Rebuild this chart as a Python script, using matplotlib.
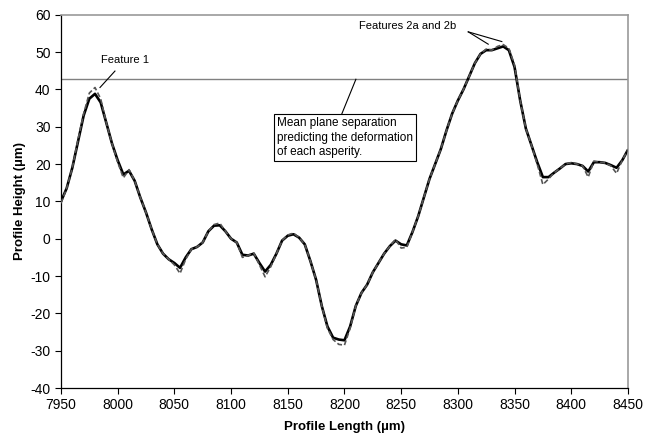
import matplotlib
matplotlib.use("Agg")
import matplotlib.pyplot as plt

plt.rcParams['font.family'] = ['Liberation Sans', 'DejaVu Sans']
plt.rcParams['axes.unicode_minus'] = False

# profile position (um)
x_pos = [7950, 7955, 7960, 7965, 7970, 7975, 7980, 7985, 7990, 7995,
         8000, 8005, 8010, 8015, 8020, 8025, 8030, 8035, 8040, 8045,
         8050, 8055, 8060, 8065, 8070, 8075, 8080, 8085, 8090, 8095,
         8100, 8105, 8110, 8115, 8120, 8125, 8130, 8135, 8140, 8145,
         8150, 8155, 8160, 8165, 8170, 8175, 8180, 8185, 8190, 8195,
         8200, 8205, 8210, 8215, 8220, 8225, 8230, 8235, 8240, 8245,
         8250, 8255, 8260, 8265, 8270, 8275, 8280, 8285, 8290, 8295,
         8300, 8305, 8310, 8315, 8320, 8325, 8330, 8335, 8340, 8345,
         8350, 8355, 8360, 8365, 8370, 8375, 8380, 8385, 8390, 8395,
         8400, 8405, 8410, 8415, 8420, 8425, 8430, 8435, 8440, 8445,
         8450]

# smoothed profile (solid black)
h_smooth = [10.0, 13.5, 19.0, 26.0, 33.0, 37.5, 38.8, 36.5, 31.0, 25.5,
            21.0, 17.2, 18.2, 15.5, 11.0, 7.0, 2.5, -1.5, -4.0, -5.5,
            -6.5, -7.8, -5.0, -2.8, -2.2, -1.0, 2.0, 3.5, 3.6, 2.0,
            0.0, -1.0, -4.3, -4.5, -4.0, -6.5, -8.8, -7.0, -4.0, -0.5,
            0.8, 1.2, 0.3, -1.5, -6.0, -11.0, -18.0, -23.5, -26.5, -27.0,
            -27.2, -23.5, -18.0, -14.5, -12.3, -9.0, -6.5, -4.0, -2.0, -0.5,
            -1.5, -1.8, 1.8, 6.0, 11.0, 16.0, 20.0, 24.0, 29.0, 33.5,
            37.0, 40.0, 43.5, 47.0, 49.5, 50.5, 50.5, 51.0, 51.5, 50.5,
            46.0, 37.0, 29.5, 25.0, 20.5, 16.5, 16.5, 17.7, 18.8, 20.0,
            20.2, 20.0, 19.5, 18.0, 20.5, 20.5, 20.3, 19.7, 19.0, 21.0,
            23.8]

# measured profile (dashed grey)
h_measured = [9.5, 13.5, 19.0, 26.5, 33.5, 39.0, 40.5, 37.5, 31.0, 25.5,
              20.5, 16.3, 18.5, 15.5, 11.0, 7.0, 2.5, -1.5, -4.0, -5.5,
              -7.0, -9.3, -5.5, -2.8, -2.2, -1.0, 2.0, 3.8, 4.2, 2.0,
              0.0, -1.0, -5.0, -4.5, -3.8, -7.0, -10.2, -7.5, -4.0, -0.5,
              1.0, 1.5, 0.3, -1.5, -6.0, -11.0, -18.0, -24.0, -27.0, -28.3,
              -28.5, -24.0, -18.0, -14.5, -12.3, -9.0, -6.5, -4.0, -2.0, -0.2,
              -2.5, -2.3, 1.8, 6.0, 11.0, 16.0, 20.0, 24.0, 29.0, 33.5,
              37.0, 40.0, 43.5, 47.0, 49.5, 50.8, 50.5, 51.5, 52.0, 51.0,
              46.5, 37.0, 29.5, 25.0, 20.0, 14.5, 16.0, 17.7, 18.8, 20.0,
              20.4, 20.0, 19.5, 16.5, 20.8, 20.5, 20.3, 19.5, 17.5, 21.0,
              23.8]

mean_plane = 42.7

fig = plt.figure(figsize=(6.46, 4.41), dpi=100)
ax = fig.add_axes([0.0944, 0.120, 0.8776, 0.8467])

ax.axhline(mean_plane, color='#808080', lw=1.0, zorder=1)
ax.plot(x_pos, h_smooth, color='black', lw=1.9, zorder=2,
        solid_joinstyle='round', solid_capstyle='round')
ax.plot(x_pos, h_measured, color='#555555', lw=1.2, dashes=(3, 1.5), zorder=3)

ax.set_xlim(7950, 8450)
ax.set_ylim(-40, 60)
ax.set_xticks(range(7950, 8451, 50))
ax.set_yticks(range(-40, 61, 10))
ax.tick_params(labelsize=10, length=4, direction='out', width=0.8)

for side in ['top', 'right']:
    ax.spines[side].set_color('#999999')
    ax.spines[side].set_linewidth(1.2)
for side in ['left', 'bottom']:
    ax.spines[side].set_linewidth(0.9)

ax.set_xlabel('Profile Length (µm)', fontsize=9.5, fontweight='bold', labelpad=6)
ax.set_ylabel('Profile Height (µm)', fontsize=9.5, fontweight='bold', labelpad=3)

# annotations
ax.text(8006.5, 47.9, 'Feature 1', fontsize=8, ha='center', va='center')
ax.plot([7997.6, 7984.4], [44.9, 40.5], color='black', lw=0.8)

ax.text(8256, 57.0, 'Features 2a and 2b', fontsize=8, ha='center', va='center')
ax.plot([8309.2, 8326.8], [55.4, 52.1], color='black', lw=0.8)
ax.plot([8309.2, 8338.8], [55.4, 52.8], color='black', lw=0.8)

ax.text(8140.5, 32.6,
        'Mean plane separation\npredicting the deformation\nof each asperity.',
        fontsize=8.5, ha='left', va='top', linespacing=1.3,
        bbox=dict(boxstyle='square,pad=0.22', fc='white', ec='black', lw=0.8))
ax.plot([8197.5, 8210.1], [33.3, 42.7], color='black', lw=0.8)

fig.savefig('out.png', dpi=100)
